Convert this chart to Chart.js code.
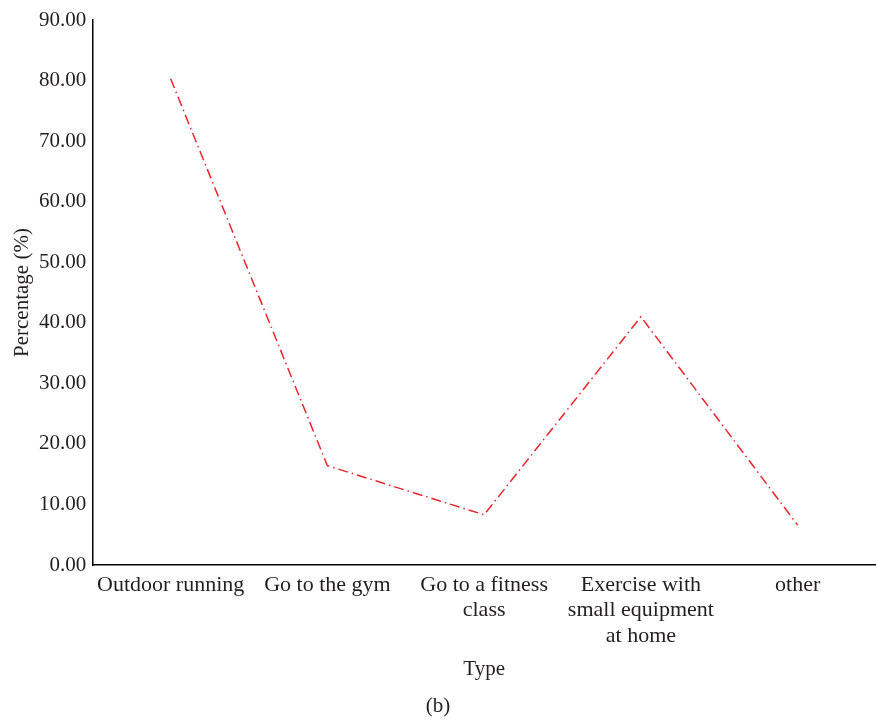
<!DOCTYPE html>
<html>
<head>
<meta charset="utf-8">
<script src="https://cdn.jsdelivr.net/npm/chart.js@4.4.1/dist/chart.umd.min.js"></script>
<style>
  html, body { margin: 0; padding: 0; background: #fff; }
  #wrap { width: 876px; height: 720px; }
</style>
</head>
<body>
<div id="wrap"><canvas id="myChart" width="876" height="720"></canvas></div>
<script>
// data
const categories = [
    'Outdoor running',
    'Go to the gym',
    ['Go to a fitness', 'class'],
    ['Exercise with', 'small equipment', 'at home'],
    'other'
];
const percentages = [80.3, 16.4, 8.3, 41.0, 6.6];

const serif = "'Liberation Serif', 'DejaVu Serif', serif";
const textColor = '#231f20';

const ctx = document.getElementById('myChart').getContext('2d');
const myChart = new Chart(ctx, {
    type: 'line',
    data: {
        labels: categories,
        datasets: [{
            label: 'Percentage',
            data: percentages,
            borderColor: '#e8262d',
            borderWidth: 1.5,
            borderDash: [10, 4, 1.5, 4],
            pointRadius: 0,
            tension: 0,
            fill: false
        }]
    },
    options: {
        responsive: false,
        animation: false,
        layout: {
            padding: { top: 20, right: 0, left: 0, bottom: 0 }
        },
        plugins: {
            legend: { display: false },
            tooltip: { enabled: false },
            title: {
                display: true,
                text: '(b)',
                position: 'bottom',
                color: textColor,
                font: { family: serif, size: 21, weight: 'normal', lineHeight: 1.2 },
                padding: { top: 12, bottom: 1 }
            }
        },
        scales: {
            x: {
                offset: true,
                grid: { display: false, drawTicks: false },
                border: { display: true, color: '#000', width: 1.5 },
                ticks: {
                    color: textColor,
                    font: { family: serif, size: 22, lineHeight: 1.16 },
                    maxRotation: 0,
                    autoSkip: false,
                    padding: 7
                },
                title: {
                    display: true,
                    text: 'Type',
                    color: textColor,
                    font: { family: serif, size: 21, lineHeight: 1.2 },
                    padding: { top: 1, bottom: 0 }
                }
            },
            y: {
                min: 0,
                max: 90,
                grid: { display: false, drawTicks: false },
                border: { display: true, color: '#000', width: 1.5 },
                ticks: {
                    stepSize: 10,
                    color: textColor,
                    font: { family: serif, size: 21 },
                    padding: 6,
                    callback: v => v.toFixed(2)
                },
                title: {
                    display: true,
                    text: 'Percentage (%)',
                    color: textColor,
                    font: { family: serif, size: 21, lineHeight: 1 },
                    padding: { top: 12, bottom: 0 }
                }
            }
        }
    }
});
</script>
</body>
</html>
